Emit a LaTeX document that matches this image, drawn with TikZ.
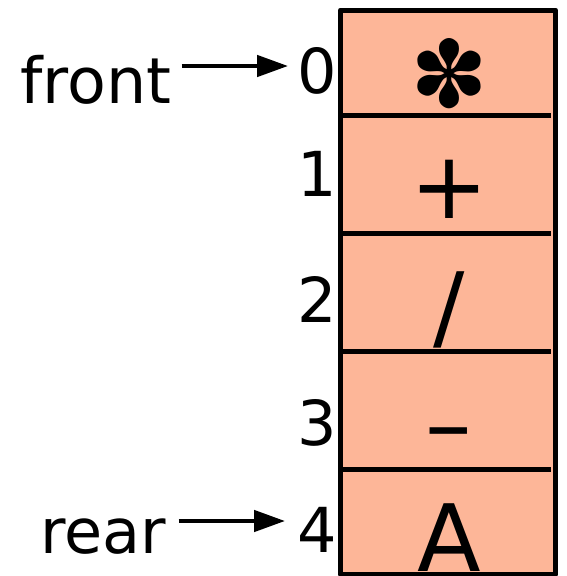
\documentclass[tikz,border=0pt]{standalone}
\usepackage{fontspec}
\setmainfont{DejaVu Sans}
\usetikzlibrary{arrows.meta}
\definecolor{cellfill}{RGB}{253,182,152}
\tikzset{
  lbl/.style={inner sep=0pt, anchor=base, font=\fontsize{62}{70}\selectfont},
  sym/.style={inner sep=0pt, anchor=base, font=\fontsize{93}{100}\selectfont},
  ptr/.style={line width=4.5pt, -{Triangle[length=31pt,width=21pt]}},
  rule/.style={line width=5pt},
}
\begin{document}
\begin{tikzpicture}[x=1pt,y=-1pt]
\useasboundingbox (0,0) rectangle (566,576);
% the array of cells
\filldraw[fill=cellfill, draw=black, line width=5pt, line join=round] (340.5,10) rectangle (555.5,574);
\foreach \y in {115.5,233,351,469.5}
  \draw[rule] (340.5,\y) -- (551,\y);
% cell contents
\node[sym] (c0) at (449,107) {✽};
\node[sym] (c1) at (449,218) {+};
\node[sym] (c2) at (449,339) {/};
\node[sym] (c3) at (449,456) {–};
\node[sym] (c4) at (449,571) {A};
% indices
\node[lbl] (i0) at (317,93) {0};
\node[lbl] (i1) at (317,196) {1};
\node[lbl] (i2) at (317,322) {2};
\node[lbl] (i3) at (317,445) {3};
\node[lbl] (i4) at (317,552) {4};
% pointers
\node[lbl, font=\fontsize{63.5}{70}\selectfont] (front) at (96,103) {front};
\node[lbl] (rear) at (103.5,553) {rear};
\coordinate (fy) at (0,66);
\coordinate (ry) at (0,521);
\draw[ptr, shorten <=10pt, shorten >=9pt] (front.east |- fy) -- (i0.west |- fy);
\draw[ptr, shorten <=12pt, shorten >=12pt] (rear.east |- ry) -- (i4.west |- ry);
\end{tikzpicture}
\end{document}
